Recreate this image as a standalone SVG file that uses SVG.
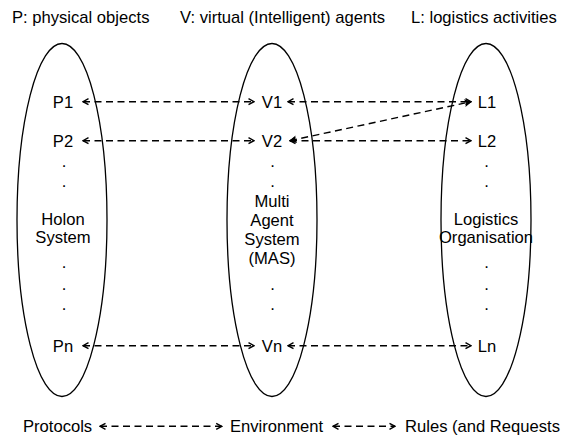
<svg xmlns="http://www.w3.org/2000/svg" width="562" height="439" viewBox="0 0 562 439">
<style>
text{font-family:"Liberation Sans",Arial,sans-serif;font-size:16.6px;fill:#000}
.c{text-anchor:middle}
.sh{fill:none;stroke:#000;stroke-width:1.3}
.dl{fill:none;stroke:#000;stroke-width:1.4;stroke-dasharray:7 4.5}
</style>
<defs>
<marker id="ah" viewBox="0 0 8 8" refX="7" refY="4" markerWidth="8" markerHeight="8" markerUnits="userSpaceOnUse" orient="auto-start-reverse">
<path d="M1.5,1 L7,4 L1.5,7" fill="none" stroke="#000" stroke-width="1.4"/>
</marker>
<marker id="af" viewBox="0 0 8 8" refX="7" refY="4" markerWidth="8" markerHeight="8" markerUnits="userSpaceOnUse" orient="auto-start-reverse">
<path d="M1.5,1.2 L7,4 L1.5,6.8 L2.8,4 Z" fill="#000" stroke="#000" stroke-width="1"/>
</marker>
</defs>
<rect width="562" height="439" fill="#fff"/>
<g id="headers">
<text x="12" y="23">P: physical objects</text>
<text x="180" y="23">V: virtual (Intelligent) agents</text>
<text x="411" y="23">L: logistics activities</text>
</g>
<g id="holon">
<ellipse class="sh" cx="62" cy="220" rx="45" ry="176.5"/>
<text class="c" x="63" y="107.6">P1</text>
<text class="c" x="63" y="146.6">P2</text>
<text class="c" x="64" y="166.5">.</text>
<text class="c" x="64" y="186.5">.</text>
<text class="c" x="63" y="224.5">Holon</text>
<text class="c" x="63" y="242.5">System</text>
<text class="c" x="64" y="268">.</text>
<text class="c" x="64" y="289.5">.</text>
<text class="c" x="64" y="309.5">.</text>
<text class="c" x="63" y="351.6">Pn</text>
</g>
<g id="mas">
<ellipse class="sh" cx="272" cy="220" rx="45" ry="176.5"/>
<text class="c" x="272" y="107.6">V1</text>
<text class="c" x="272" y="146.6">V2</text>
<text class="c" x="272.5" y="166.5">.</text>
<text class="c" x="272.5" y="186.5">.</text>
<text class="c" x="272" y="207">Multi</text>
<text class="c" x="272" y="226">Agent</text>
<text class="c" x="272" y="245">System</text>
<text class="c" x="272" y="264">(MAS)</text>
<text class="c" x="272.5" y="289.5">.</text>
<text class="c" x="272.5" y="309.5">.</text>
<text class="c" x="272" y="351.6">Vn</text>
</g>
<g id="logistics">
<ellipse class="sh" cx="486" cy="220" rx="45" ry="176.5"/>
<text class="c" x="487" y="107.6">L1</text>
<text class="c" x="487" y="146.6">L2</text>
<text class="c" x="486.5" y="166.5">.</text>
<text class="c" x="486.5" y="186.5">.</text>
<text class="c" x="486" y="225">Logistics</text>
<text class="c" x="486" y="243">Organisation</text>
<text class="c" x="486.5" y="268">.</text>
<text class="c" x="486.5" y="289.5">.</text>
<text class="c" x="486.5" y="309.5">.</text>
<text class="c" x="487" y="351.6">Ln</text>
</g>
<g id="bottom">
<text x="23" y="432">Protocols</text>
<text x="230" y="432">Environment</text>
<text x="405" y="432">Rules (and Requests</text>
</g>
<g id="connectors">
<line class="dl" x1="83" y1="101.7" x2="254" y2="101.7" marker-start="url(#ah)" marker-end="url(#ah)"/>
<line class="dl" x1="288" y1="101.7" x2="471" y2="101.7" marker-start="url(#ah)" marker-end="url(#ah)"/>
<line class="dl" x1="83" y1="140.7" x2="254" y2="140.7" marker-start="url(#ah)" marker-end="url(#ah)"/>
<line class="dl" x1="290" y1="140.7" x2="471" y2="140.7" marker-start="url(#ah)" marker-end="url(#ah)"/>
<line class="dl" x1="290" y1="140.7" x2="471" y2="101.7" marker-start="url(#af)" marker-end="url(#af)"/>
<line class="dl" x1="83" y1="345.7" x2="254" y2="345.7" marker-start="url(#ah)" marker-end="url(#ah)"/>
<line class="dl" x1="288" y1="345.7" x2="471" y2="345.7" marker-start="url(#ah)" marker-end="url(#ah)"/>
<line class="dl" x1="100" y1="426.3" x2="221.7" y2="426.3" marker-start="url(#ah)" marker-end="url(#ah)"/>
<line class="dl" x1="333" y1="426.3" x2="395" y2="426.3" marker-start="url(#ah)" marker-end="url(#ah)"/>
</g>
</svg>
